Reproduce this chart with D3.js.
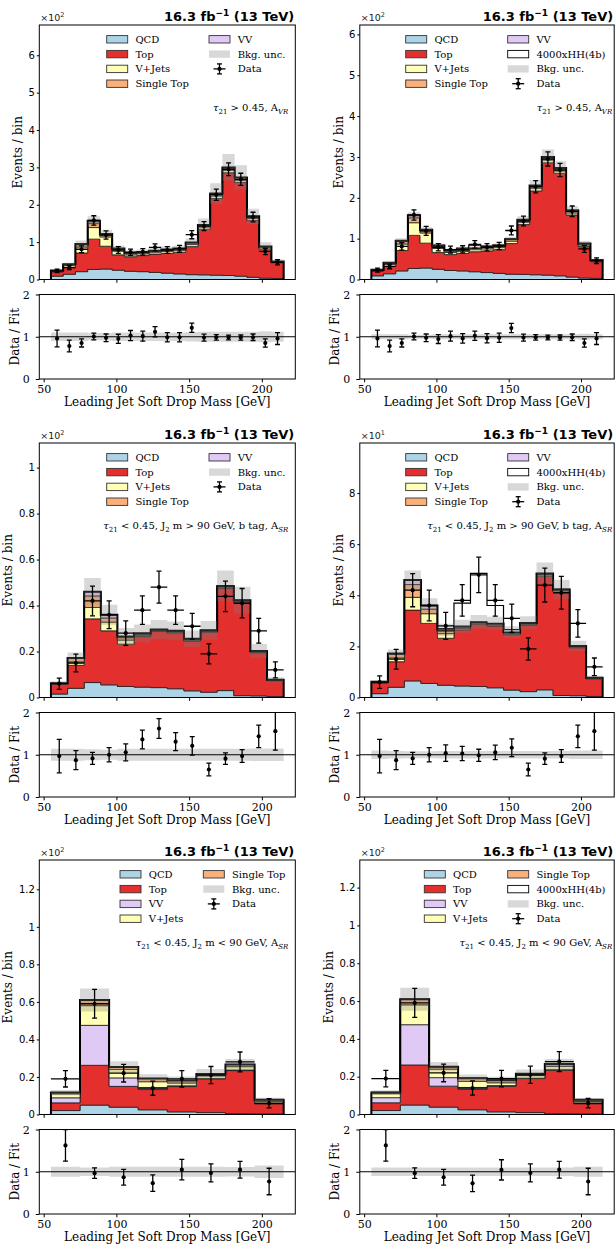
<!DOCTYPE html>
<html>
<head>
<meta charset="utf-8">
<script src="https://cdn.jsdelivr.net/npm/d3@7"></script>
<style>
  html, body { margin: 0; padding: 0; background: #fff; }
  svg { display: block; }
</style>
</head>
<body>
<svg id="fig" width="615" height="1245"></svg>
<script>
// ---------------------------------------------------------------
// Leading jet soft-drop mass, 16.3 fb^-1 at 13 TeV
// Stacked background fits, data and Data/Fit ratio in three regions
// ---------------------------------------------------------------

const massRange = [55, 215];           // GeV, histogram range
const massTicks = [50, 100, 150, 200];
const ratioTicks = [0, 1, 2];

// ---- tau21 > 0.45, A_VR (19 bins) ----
const vrQCD   = [9, 14, 21, 27, 28, 25, 22, 21, 19, 17, 15, 13, 12.5, 11.6, 10.7, 9, 6, 3.6, 2.7];
const vrTop   = [11.6, 18, 50, 81, 61, 41, 39, 43, 49, 53, 58, 75, 122, 205, 275, 251, 152, 77, 41];
const vrVJets = [2, 5, 16, 31, 25, 10, 5, 5, 5, 5, 5, 6, 6, 7, 7, 6, 5, 4, 2];
const vrSTop  = [1, 3, 6, 12, 5, 5, 4, 3, 3, 4, 4, 4, 5, 6, 7, 7, 6, 3.4, 2.3];
const vrVV    = [0.4, 1, 2, 6, 3, 2, 1, 1, 1, 1, 1, 1, 0.5, 0.4, 0.3, 0, 0, 0, 0];
const vrHH    = [0, 0, 0, 0, 0, 0.5, 1, 4, 7, 2, 1, 0.5, 0, 0, 0, 0, 0, 0, 0];
const vrData  = [23, 32, 81, 158, 119, 79, 73, 74, 86, 79, 82, 120, 143, 227, 295, 268, 167, 75, 46];
const vrUncBkg = [0.1, 0.1, 0.1, 0.08, 0.09, 0.1, 0.1, 0.1, 0.1, 0.1, 0.1, 0.11, 0.12, 0.12, 0.12, 0.12, 0.12, 0.13, 0.12];
const vrUncSig = [0.06, 0.06, 0.06, 0.05, 0.05, 0.06, 0.06, 0.06, 0.06, 0.06, 0.06, 0.06, 0.06, 0.06, 0.06, 0.06, 0.06, 0.07, 0.06];
const vrTickValues = [0, 100, 200, 300, 400, 500, 600];
const vrTickLabels = ["0", "1", "2", "3", "4", "5", "6"];

// ---- tau21 < 0.45, J2 m > 90 GeV, b tag, A_SR (14 bins) ----
const srbQCD   = [1.5, 4, 6.5, 5.5, 4.8, 4.5, 4.3, 3.8, 2.9, 2.3, 3, 0.8, 0.7, 0.4];
const srbTop   = [4.2, 10, 27.7, 23.5, 18.4, 22, 24.4, 24.2, 21.7, 26.1, 44.5, 40.5, 18.8, 6.9];
const srbVJets = [0.3, 1.5, 5, 3.8, 1.8, 0.6, 0.4, 0.4, 0.4, 0.3, 0.5, 0.5, 0.3, 0.2];
const srbSTop  = [0.2, 1.5, 5, 1.8, 1, 0.5, 0.4, 0.5, 0.5, 0.5, 0.5, 0.5, 0.4, 0.2];
const srbVV    = [0, 0.2, 1.8, 1.4, 0.5, 0.3, 0.1, 0.1, 0.1, 0, 0, 0, 0, 0];
const srbHH    = [0, 0, 0, 0, 0.5, 9, 19, 7, 1, 0, 0, 0, 0, 0];
const srbData  = [6, 15, 42, 36, 28, 38, 48, 38, 31, 19, 44, 41, 29, 12];
const srbUncBkg = [0.14, 0.14, 0.13, 0.12, 0.14, 0.14, 0.14, 0.14, 0.14, 0.14, 0.14, 0.14, 0.15, 0.15];
const srbUncSig = [0.1, 0.09, 0.08, 0.08, 0.09, 0.09, 0.09, 0.09, 0.09, 0.09, 0.09, 0.09, 0.1, 0.1];
const srbTickValuesL = [0, 20, 40, 60, 80, 100];
const srbTickLabelsL = ["0", "0.2", "0.4", "0.6", "0.8", "1"];
const srbTickValuesR = [0, 20, 40, 60, 80];
const srbTickLabelsR = ["0", "2", "4", "6", "8"];

// ---- tau21 < 0.45, J2 m < 90 GeV, A_SR (8 bins) ----
const srQCD   = [2.1, 5, 3.9, 2.5, 1.4, 1.0, 0.4, 0.3];
const srTop   = [4.1, 21.2, 11.1, 10.8, 13.5, 18.0, 23.0, 5.4];
const srVV    = [2.7, 21.3, 4.5, 1.0, 0.4, 0.2, 0.3, 0.2];
const srVJets = [2.1, 10.5, 4.5, 3.2, 1.5, 1.4, 1.8, 1.0];
const srSTop  = [0.7, 3, 1.3, 1.7, 1.3, 1.0, 1.2, 0.9];
const srHH    = [0, 0, 0, 0.1, 0.1, 0, 0, 0];
const srData  = [19, 59, 22, 14, 19, 21, 28, 6];
const srUncBkg = [0.12, 0.1, 0.12, 0.12, 0.12, 0.12, 0.11, 0.15];
const srUncSig = [0.1, 0.1, 0.1, 0.1, 0.1, 0.1, 0.1, 0.12];
const srTickValues = [0, 20, 40, 60, 80, 100, 120];
const srTickLabels = ["0", "0.2", "0.4", "0.6", "0.8", "1", "1.2"];

// ---- styles ----
const sampleColors = {
  "QCD": "#acd4e6",
  "Top": "#e3302f",
  "V+Jets": "#ffffb5",
  "Single Top": "#f9b07a",
  "VV": "#e1c9f5"
};
const SERIF = "'DejaVu Serif', serif";
const SANS = "'DejaVu Sans', sans-serif";

const noteVR  = [{t: "τ", it: true}, {t: "21", sub: true}, {t: " > 0.45, A"}, {t: "VR", sub: true, it: true}];
const noteSRb = [{t: "τ", it: true}, {t: "21", sub: true}, {t: " < 0.45, J"}, {t: "2", sub: true},
                 {t: " m > 90 GeV, b tag, A"}, {t: "SR", sub: true, it: true}];
const noteSR  = [{t: "τ", it: true}, {t: "21", sub: true}, {t: " < 0.45, J"}, {t: "2", sub: true},
                 {t: " m < 90 GeV, A"}, {t: "SR", sub: true, it: true}];

const panels = [
  {col: 0, row: 0, comps: [["QCD", vrQCD], ["Top", vrTop], ["V+Jets", vrVJets], ["Single Top", vrSTop], ["VV", vrVV]],
   signal: null, data: vrData, unc: vrUncBkg, yMax: 681, yTicks: vrTickValues, yLabels: vrTickLabels, exp: 2,
   legendX: [67.4, 169.7], note: noteVR},
  {col: 1, row: 0, comps: [["QCD", vrQCD], ["Top", vrTop], ["V+Jets", vrVJets], ["Single Top", vrSTop], ["VV", vrVV]],
   signal: vrHH, data: vrData, unc: vrUncSig, yMax: 623, yTicks: vrTickValues, yLabels: vrTickLabels, exp: 2,
   legendX: [45.9, 147.9], note: noteVR},
  {col: 0, row: 1, comps: [["QCD", srbQCD], ["Top", srbTop], ["V+Jets", srbVJets], ["Single Top", srbSTop], ["VV", srbVV]],
   signal: null, data: srbData, unc: srbUncBkg, yMax: 110.7, yTicks: srbTickValuesL, yLabels: srbTickLabelsL, exp: 2,
   legendX: [67.4, 169.7], note: noteSRb},
  {col: 1, row: 1, comps: [["QCD", srbQCD], ["Top", srbTop], ["V+Jets", srbVJets], ["Single Top", srbSTop], ["VV", srbVV]],
   signal: srbHH, data: srbData, unc: srbUncSig, yMax: 99.6, yTicks: srbTickValuesR, yLabels: srbTickLabelsR, exp: 1,
   legendX: [45.9, 147.9], note: noteSRb},
  {col: 0, row: 2, comps: [["QCD", srQCD], ["Top", srTop], ["VV", srVV], ["V+Jets", srVJets], ["Single Top", srSTop]],
   signal: null, data: srData, unc: srUncBkg, yMax: 135.6, yTicks: srTickValues, yLabels: srTickLabels, exp: 2,
   legendX: [80.7, 164], note: noteSR},
  {col: 1, row: 2, comps: [["QCD", srQCD], ["Top", srTop], ["VV", srVV], ["V+Jets", srVJets], ["Single Top", srSTop]],
   signal: srHH, data: srData, unc: srUncSig, yMax: 134.6, yTicks: srTickValues, yLabels: srTickLabels, exp: 2,
   legendX: [64.5, 147.9], note: noteSR}
];

// ---- layout ----
const colRange = [[39.3, 295.3], [359.8, 614.2]];
const rowTop = [25, 443, 860];
const mainH = 254.5, gapH = 15, ratioH = 84.5;
const xDomain = [47, 223];
const noteInset = [7, 2];

const svg = d3.select("#fig");

function binEdges(n) {
  return d3.range(n + 1).map(i => massRange[0] + i * (massRange[1] - massRange[0]) / n);
}
function stepPts(edges, lo, hi) {
  const pts = [];
  for (let i = 0; i < edges.length - 1; i++) {
    pts.push({x: edges[i], y0: lo[i], y1: hi[i]});
    pts.push({x: edges[i + 1], y0: lo[i], y1: hi[i]});
  }
  return pts;
}
function textWidth(str, family, size) {
  const t = svg.append("text").attr("font-family", family).attr("font-size", size).text(str);
  const w = t.node().getComputedTextLength();
  t.remove();
  return w;
}

function drawPanel(p, idx) {
  const [xl, xr] = colRange[p.col];
  const top = rowTop[p.row];
  const bottom = top + mainH;
  const rTop = bottom + gapH, rBot = rTop + ratioH;

  const x = d3.scaleLinear().domain(xDomain).range([xl, xr]);
  const y = d3.scaleLinear().domain([0, p.yMax]).range([bottom, top]);
  const yr = d3.scaleLinear().domain([0, 2]).range([rBot, rTop]);

  const n = p.data.length;
  const edges = binEdges(n);
  const centers = edges.slice(0, -1).map((e, i) => (e + edges[i + 1]) / 2);

  // cumulative stack
  const cum = new Array(n).fill(0);
  const layers = p.comps.map(([name, vals]) => {
    const lo = cum.slice();
    vals.forEach((v, i) => { cum[i] += v; });
    return {name, lo, hi: cum.slice()};
  });
  const bkg = cum.slice();
  const fit = bkg.map((b, i) => b + (p.signal ? p.signal[i] : 0));

  // clip paths
  const defs = svg.append("defs");
  defs.append("clipPath").attr("id", "cm" + idx).append("rect")
    .attr("x", xl).attr("y", top).attr("width", xr - xl).attr("height", mainH);
  defs.append("clipPath").attr("id", "cr" + idx).append("rect")
    .attr("x", xl).attr("y", rTop).attr("width", xr - xl).attr("height", ratioH);

  const area = d3.area().x(d => x(d.x)).y0(d => y(d.y0)).y1(d => y(d.y1));
  const gm = svg.append("g").attr("clip-path", `url(#cm${idx})`);

  // stacked backgrounds
  layers.forEach(L => {
    gm.append("path").attr("d", area(stepPts(edges, L.lo, L.hi)))
      .attr("fill", sampleColors[L.name]).attr("stroke", "#1e1e1e").attr("stroke-width", 0.8);
  });
  // total background outline
  const outline = [{x: edges[0], v: 0}]
    .concat(stepPts(edges, bkg, bkg).map(d => ({x: d.x, v: d.y1})))
    .concat([{x: edges[n], v: 0}]);
  gm.append("path").attr("d", d3.line().x(d => x(d.x)).y(d => y(d.v))(outline))
    .attr("fill", "none").attr("stroke", "#000").attr("stroke-width", 2);
  // signal on top
  if (p.signal) {
    gm.append("path").attr("d", area(stepPts(edges, bkg, fit)))
      .attr("fill", "#fff").attr("stroke", "#000").attr("stroke-width", 1.2);
  }
  // background uncertainty band
  gm.append("path")
    .attr("d", area(stepPts(edges, bkg.map((b, i) => b * (1 - p.unc[i])), bkg.map((b, i) => b * (1 + p.unc[i])))))
    .attr("fill", "#7f7f7f").attr("fill-opacity", 0.3).attr("stroke", "none");

  // data with Poisson errors
  const gd = gm.append("g").attr("stroke", "#000").attr("stroke-width", 1.3);
  p.data.forEach((d, i) => {
    const e = Math.sqrt(d);
    const cx = x(centers[i]);
    gd.append("line").attr("x1", x(edges[i])).attr("x2", x(edges[i + 1])).attr("y1", y(d)).attr("y2", y(d));
    gd.append("line").attr("x1", cx).attr("x2", cx).attr("y1", y(d - e)).attr("y2", y(d + e));
    [d - e, d + e].forEach(v => gd.append("line").attr("x1", cx - 2.5).attr("x2", cx + 2.5).attr("y1", y(v)).attr("y2", y(v)));
    gm.append("circle").attr("cx", cx).attr("cy", y(d)).attr("r", 2.1).attr("fill", "#000");
  });

  // frame and axes (main)
  svg.append("rect").attr("x", xl).attr("y", top).attr("width", xr - xl).attr("height", mainH)
    .attr("fill", "none").attr("stroke", "#000").attr("stroke-width", 1);
  const ya = svg.append("g").attr("transform", `translate(${xl},0)`)
    .call(d3.axisLeft(y).tickValues(p.yTicks).tickFormat((d, i) => p.yLabels[i]).tickSize(2.5).tickPadding(2));
  ya.select(".domain").remove();
  ya.attr("font-family", SANS).attr("font-size", 10);
  svg.append("g").attr("transform", `translate(0,${bottom})`)
    .call(d3.axisBottom(x).tickValues(massTicks).tickFormat("").tickSize(3.3))
    .select(".domain").remove();

  // offset multiplier
  const off = svg.append("text").attr("x", xl + 1).attr("y", top - 4)
    .attr("font-family", SANS).attr("font-size", 9.5).attr("fill", "#222");
  off.append("tspan").text("×10");
  off.append("tspan").attr("dy", -4).attr("font-size", 6.5).text(String(p.exp));

  // luminosity title
  const tt = svg.append("text").attr("x", xr - 1).attr("y", top - 4.5).attr("text-anchor", "end")
    .attr("font-family", SANS).attr("font-weight", "bold").attr("font-size", 13).attr("fill", "#000");
  tt.append("tspan").text("16.3 fb");
  tt.append("tspan").attr("dy", -5).attr("font-size", 9).text("−1");
  tt.append("tspan").attr("dy", 5).text(" (13 TeV)");

  // y label
  const maxW = d3.max(p.yLabels, s => textWidth(s, SANS, 10));
  const ylx = xl - maxW - 14.9;
  svg.append("text").attr("transform", `translate(${ylx},${(top + bottom) / 2}) rotate(-90)`)
    .attr("text-anchor", "middle").attr("dominant-baseline", "central")
    .attr("font-family", SERIF).attr("font-size", 12).text("Events / bin");

  // region annotation
  const note = svg.append("text").attr("x", xr - noteInset[p.col]).attr("y", top + 86)
    .attr("text-anchor", "end").attr("font-family", SERIF).attr("font-size", 10);
  let shifted = false;
  p.note.forEach(s => {
    const ts = note.append("tspan").text(s.t);
    if (s.it) ts.attr("font-style", "italic");
    if (s.sub) {
      ts.attr("font-size", 7);
      if (!shifted) { ts.attr("dy", 2.5); shifted = true; }
    } else if (shifted) { ts.attr("dy", -2.5); shifted = false; }
  });

  // legend
  const entries = p.comps.map(([name]) => ({type: "patch", name}));
  if (p.signal) entries.push({type: "signal", name: "4000xHH(4b)"});
  entries.push({type: "unc", name: "Bkg. unc."});
  entries.push({type: "data", name: "Data"});
  const gl = svg.append("g");
  entries.forEach((en, k) => {
    const c = k < 4 ? 0 : 1, r = k < 4 ? k : k - 4;
    const px = xl + p.legendX[c], py = top + 14.3 + r * 14.8;
    if (en.type === "patch" || en.type === "signal") {
      gl.append("rect").attr("x", px).attr("y", py - 3.7).attr("width", 21).attr("height", 7.4)
        .attr("fill", en.type === "signal" ? "#fff" : sampleColors[en.name])
        .attr("stroke", en.type === "signal" ? "#000" : "#333").attr("stroke-width", 0.9);
    } else if (en.type === "unc") {
      gl.append("rect").attr("x", px).attr("y", py - 3.7).attr("width", 21).attr("height", 7.4)
        .attr("fill", "#7f7f7f").attr("fill-opacity", 0.3);
    } else {
      const mx = px + 10.5;
      const gg = gl.append("g").attr("stroke", "#000").attr("stroke-width", 1.3);
      gg.append("line").attr("x1", mx - 6).attr("x2", mx + 6).attr("y1", py).attr("y2", py);
      gg.append("line").attr("x1", mx).attr("x2", mx).attr("y1", py - 5).attr("y2", py + 5);
      gg.append("line").attr("x1", mx - 2.5).attr("x2", mx + 2.5).attr("y1", py - 5).attr("y2", py - 5);
      gg.append("line").attr("x1", mx - 2.5).attr("x2", mx + 2.5).attr("y1", py + 5).attr("y2", py + 5);
      gl.append("circle").attr("cx", mx).attr("cy", py).attr("r", 2.1).attr("fill", "#000");
    }
    gl.append("text").attr("x", px + 28.7).attr("y", py).attr("dominant-baseline", "central")
      .attr("font-family", SERIF).attr("font-size", 10).text(en.name);
  });

  // ---- ratio panel ----
  const gr = svg.append("g").attr("clip-path", `url(#cr${idx})`);
  const rArea = d3.area().x(d => x(d.x)).y0(d => yr(d.y0)).y1(d => yr(d.y1));
  gr.append("path")
    .attr("d", rArea(stepPts(edges, p.unc.map(u => 1 - u), p.unc.map(u => 1 + u))))
    .attr("fill", "#7f7f7f").attr("fill-opacity", 0.3);
  gr.append("line").attr("x1", xl).attr("x2", xr).attr("y1", yr(1)).attr("y2", yr(1))
    .attr("stroke", "#000").attr("stroke-width", 1.2);
  const gre = gr.append("g").attr("stroke", "#000").attr("stroke-width", 1.3);
  p.data.forEach((d, i) => {
    const rv = d / fit[i], re = Math.sqrt(d) / fit[i];
    const cx = x(centers[i]);
    gre.append("line").attr("x1", cx).attr("x2", cx).attr("y1", yr(rv - re)).attr("y2", yr(rv + re));
    [rv - re, rv + re].forEach(v => gre.append("line").attr("x1", cx - 2.5).attr("x2", cx + 2.5).attr("y1", yr(v)).attr("y2", yr(v)));
    gr.append("circle").attr("cx", cx).attr("cy", yr(rv)).attr("r", 2.1).attr("fill", "#000");
  });
  svg.append("rect").attr("x", xl).attr("y", rTop).attr("width", xr - xl).attr("height", ratioH)
    .attr("fill", "none").attr("stroke", "#000").attr("stroke-width", 1);
  const rya = svg.append("g").attr("transform", `translate(${xl},0)`)
    .call(d3.axisLeft(yr).tickValues(ratioTicks).tickFormat(d3.format("d")).tickSize(3.5).tickPadding(6));
  rya.select(".domain").remove();
  rya.attr("font-family", SERIF).attr("font-size", 11);
  const rxa = svg.append("g").attr("transform", `translate(0,${rBot})`)
    .call(d3.axisBottom(x).tickValues(massTicks).tickFormat(d3.format("d")).tickSize(3.3).tickPadding(2.5));
  rxa.select(".domain").remove();
  rxa.attr("font-family", SERIF).attr("font-size", 11);

  svg.append("text").attr("transform", `translate(${xl - 24.5},${(rTop + rBot) / 2}) rotate(-90)`)
    .attr("text-anchor", "middle").attr("dominant-baseline", "central")
    .attr("font-family", SERIF).attr("font-size", 12).text("Data / Fit");
  svg.append("text").attr("x", (xl + xr) / 2).attr("y", rBot + 27)
    .attr("text-anchor", "middle").attr("font-family", SERIF).attr("font-size", 12)
    .text("Leading Jet Soft Drop Mass [GeV]");
}

panels.forEach(drawPanel);
</script>
</body>
</html>
